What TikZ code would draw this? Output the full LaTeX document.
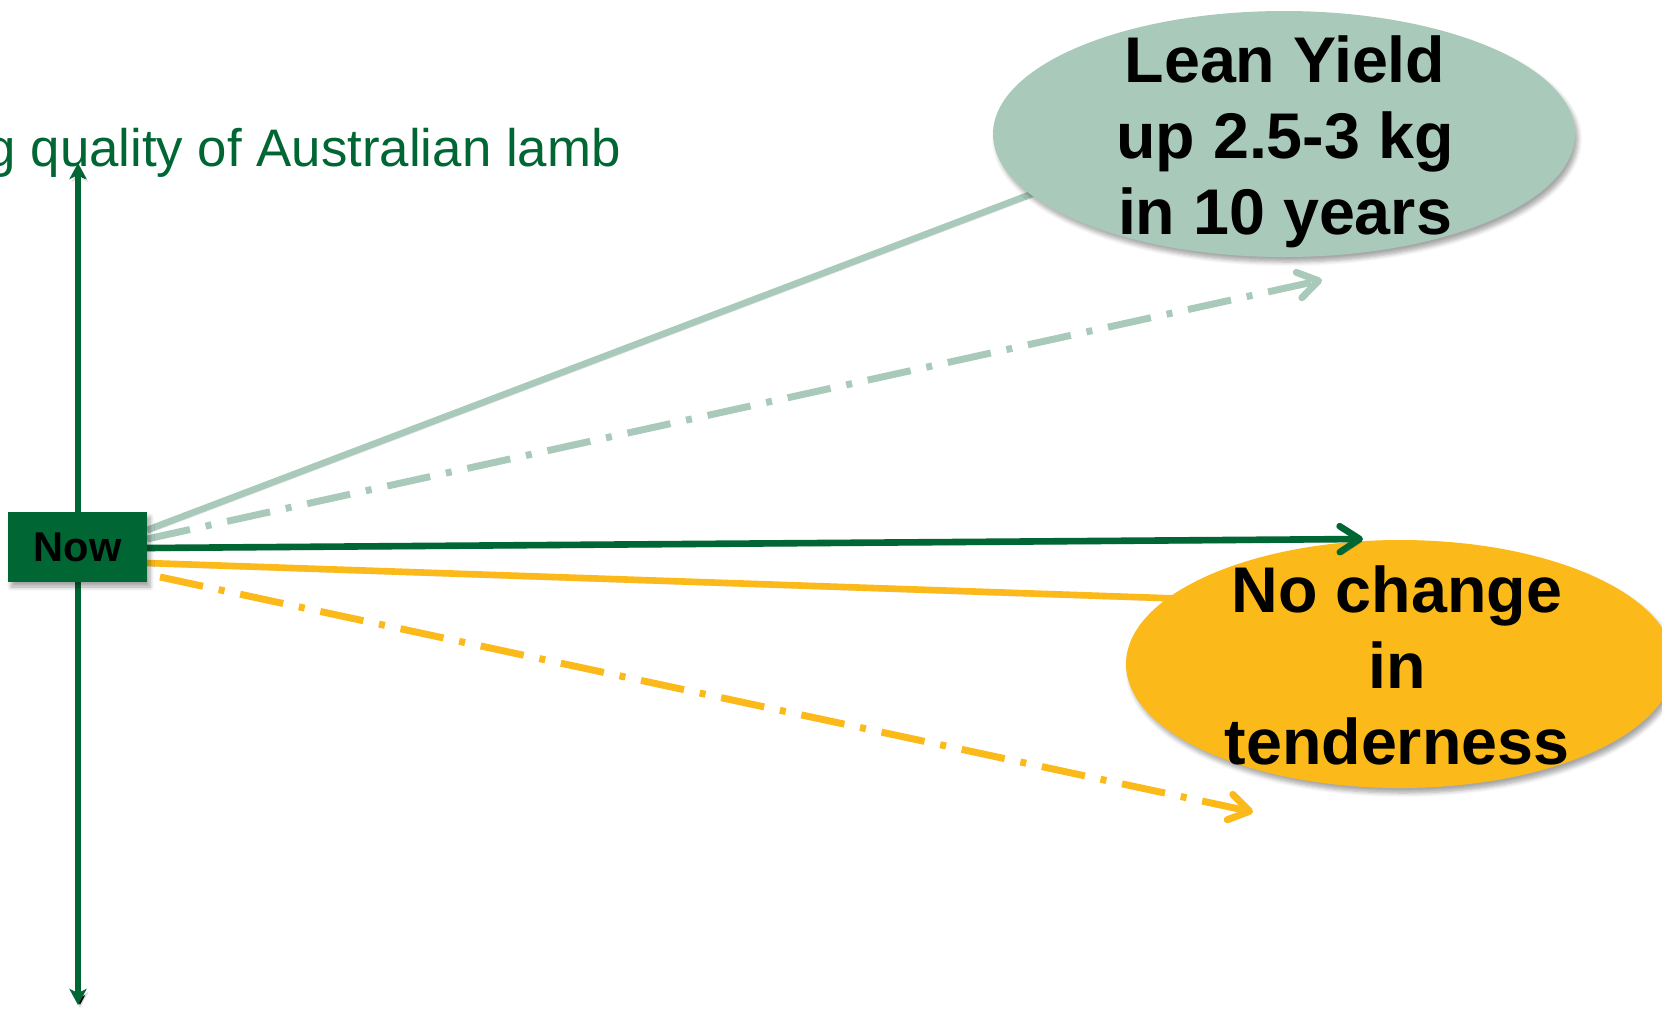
\documentclass[tikz,border=0pt]{standalone}
\usepackage{fontspec}
\setmainfont{Liberation Sans}
\usetikzlibrary{arrows.meta,shapes.geometric,shadows.blur}
\definecolor{dkgreen}{RGB}{0,102,51}
\definecolor{ltgreen}{RGB}{169,202,187}
\definecolor{gold}{RGB}{251,186,25}
\begin{document}
\begin{tikzpicture}[x=0.5pt,y=-0.5pt,
  shade/.style={blur shadow={shadow xshift=1.5pt,shadow yshift=-2.5pt,shadow blur steps=6,shadow opacity=35}},
  bubble/.style={ellipse,inner sep=0pt,draw=none,shade},
  bubtext/.style={align=center,font=\fontsize{32.3pt}{38pt}\selectfont\bfseries,text=black,inner sep=0pt},
  dashdot/.style={line width=3.5pt,dash pattern=on 22pt off 8pt on 3pt off 8pt},
  barb/.style={-{Straight Barb[length=10pt,width=13pt,line cap=round,line join=round]}},
  axisarrow/.style={{Stealth[length=8pt,width=8.5pt,inset=2pt]}-{Stealth[length=8pt,width=8.5pt,inset=2pt]}},
  lshadow/.style={preaction={draw=black,draw opacity=0.12,transform canvas={xshift=1pt,yshift=-1.5pt}}},
  conn/.style={line width=3.3pt}
]
\useasboundingbox (0,0) rectangle (1662,1008);

% axis
\coordinate (top) at (78,163);
\coordinate (bot) at (78,1005);
\draw[dkgreen,line width=3.3pt,axisarrow,lshadow] (bot) -- (top);

% title
\node[anchor=base east,text=dkgreen,font=\fontsize{26.4pt}{30pt}\selectfont,inner sep=0pt] (title) at (621,166) {g quality of Australian lamb};

% connector end points
\coordinate (s1) at (147,530);
\coordinate (e1) at (1100,168);
\coordinate (s2) at (147,539);
\coordinate (e2) at (1322,280);
\coordinate (s3) at (147,548);
\coordinate (e3) at (1363,539);
\coordinate (s4) at (147,563);
\coordinate (e4) at (1250,601);
\coordinate (s5) at (160,577);
\coordinate (e5) at (1253,812);

% solid lines going under the bubbles
\draw[conn,lshadow,ltgreen] (s1) -- (e1);
\draw[conn,lshadow,gold] (s4) -- (e4);

% bubbles
\node[bubble,fill=ltgreen,minimum width=291pt,minimum height=123pt] (lean) at (1284,134) {};
\node[bubble,fill=gold,minimum width=274pt,minimum height=124pt] (nochange) at (1400,664) {};
\node[bubtext] (leantext) at (1285,141.5) {Lean Yield\\up 2.5-3 kg\\in 10 years};
\node[bubtext] (nochangetext) at (1397,665) {No change\\in\\tenderness};

% arrows
\draw[conn,ltgreen,dashdot,barb] (s2) -- (e2);
\draw[conn,lshadow,dkgreen,barb] (s3) -- (e3);
\draw[conn,gold,dashdot,barb] (s5) -- (e5);

% Now box
\node[fill=dkgreen,minimum width=69.5pt,minimum height=35pt,inner sep=0pt,font=\fontsize{20.8pt}{24pt}\selectfont\bfseries,text=black,shade] (now) at (77.5,547) {Now};
\end{tikzpicture}
\end{document}
